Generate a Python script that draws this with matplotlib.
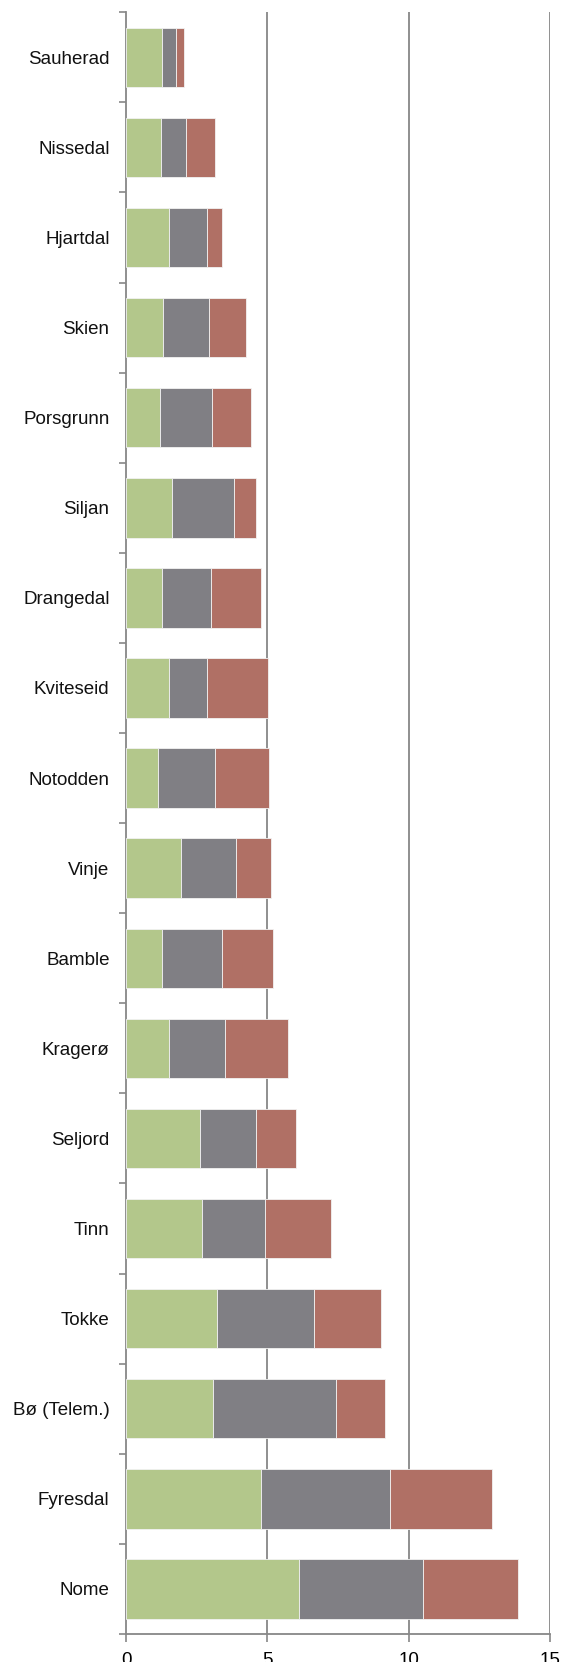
import matplotlib.pyplot as plt
import numpy as np

# categories listed top to bottom as in the chart
kommuner = ['Sauherad', 'Nissedal', 'Hjartdal', 'Skien', 'Porsgrunn', 'Siljan',
            'Drangedal', 'Kviteseid', 'Notodden', 'Vinje', 'Bamble', 'Kragerø',
            'Seljord', 'Tinn', 'Tokke', 'Bø (Telem.)', 'Fyresdal', 'Nome']

serie_gronn = [1.25, 1.24, 1.52, 1.29, 1.21, 1.62, 1.26, 1.52, 1.11, 1.95, 1.26, 1.51,
               2.61, 2.67, 3.21, 3.07, 4.78, 6.11]
serie_graa = [0.51, 0.87, 1.35, 1.64, 1.83, 2.20, 1.75, 1.35, 2.04, 1.92, 2.14, 1.99,
              1.99, 2.25, 3.44, 4.36, 4.56, 4.40]
serie_rod = [0.29, 1.03, 0.53, 1.30, 1.38, 0.79, 1.75, 2.15, 1.91, 1.27, 1.80, 2.24,
             1.40, 2.32, 2.36, 1.74, 3.62, 3.38]

x_ticks = [0, 5, 10, 15]

plt.rcParams['font.family'] = ['Liberation Sans', 'DejaVu Sans']

axis_col = '#878787'
fig = plt.figure(figsize=(5.61, 16.62), dpi=100)
ax = fig.add_axes([0.225, 0.0169, 0.755, 0.9757])

y = np.arange(len(kommuner))
g = np.array(serie_gronn)
s = np.array(serie_graa)
r = np.array(serie_rod)

kw = dict(height=0.66, edgecolor='#f2f2f2', linewidth=0.6, zorder=3)
ax.barh(y, g, color='#b3c78b', **kw)
ax.barh(y, s, left=g, color='#807f84', **kw)
ax.barh(y, r, left=g + s, color='#b07065', **kw)

ax.set_ylim(len(kommuner) - 0.5, -0.5)
ax.set_xlim(0, 15)

ax.set_yticks(y)
ax.set_yticklabels(kommuner, fontsize=13.5, color='#111111')
ax.set_yticks(np.arange(-0.5, len(kommuner), 1), minor=True)
ax.tick_params(axis='y', which='major', length=0, pad=12)
ax.tick_params(axis='y', which='minor', length=5, width=1.2, color=axis_col)

ax.set_xticks(x_ticks)
ax.set_xticklabels([str(t) for t in x_ticks], fontsize=13.5)
ax.tick_params(axis='x', length=6, width=1.2, color=axis_col, pad=7)

for xv in x_ticks[1:]:
    ax.axvline(xv, color=axis_col, linewidth=1.3, zorder=1)

for side in ['top', 'right']:
    ax.spines[side].set_visible(False)
for side in ['left', 'bottom']:
    ax.spines[side].set_color(axis_col)
    ax.spines[side].set_linewidth(1.3)

fig.savefig('out.png', dpi=100)
